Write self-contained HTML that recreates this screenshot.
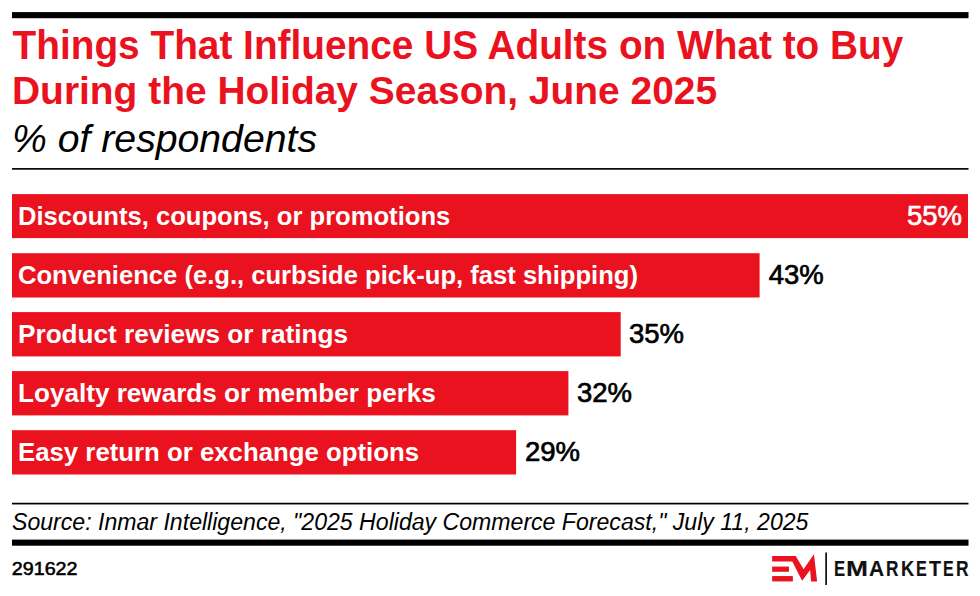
<!DOCTYPE html>
<html>
<head>
<meta charset="utf-8">
<style>
html,body{margin:0;padding:0;background:#fff;}
body{width:980px;height:596px;position:relative;overflow:hidden;font-family:"Liberation Sans",sans-serif;}
.a{position:absolute;white-space:nowrap;}
.t{color:#E9121E;font-weight:bold;font-size:38.93px;line-height:38.93px;left:12px;transform-origin:0 0;transform:scaleY(1.08);}
.sub{font-style:italic;font-size:39.2px;line-height:39.2px;left:12px;color:#000;transform-origin:0 0;}
.lbl{color:#fff;font-weight:bold;font-size:25.6px;line-height:25.6px;left:18px;transform-origin:0 0;transform:scaleY(1.04);}
.val{color:#000;font-weight:normal;-webkit-text-stroke:0.7px currentColor;font-size:27.5px;line-height:27.5px;transform-origin:0 0;}
.em{position:absolute;top:0;font-weight:bold;font-size:21.2px;line-height:21.2px;color:#111;-webkit-text-stroke:0.15px #111;transform-origin:0 0;}
.src{font-style:italic;font-size:23.1px;line-height:23.1px;left:12px;color:#000;transform-origin:0 0;}
</style>
</head>
<body>

<div class="a t" style="top:26.4px;left:12.5px;font-size:38.8px;transform:scaleY(1.04);">Things That Influence US Adults on What to Buy</div>
<div class="a t" style="top:71.2px;transform:scaleY(1.02);">During the Holiday Season, June 2025</div>
<div class="a sub" style="top:118.8px;">% of respondents</div>


<svg class="a" style="left:0;top:0;" width="980" height="596" viewBox="0 0 980 596">
  <g fill="#000">
    <rect x="12" y="12.1" width="956.5" height="6.1"/>
    <rect x="12" y="168.05" width="956.5" height="1.65"/>
    <rect x="12" y="502.75" width="956.5" height="1.7"/>
    <rect x="12" y="539.6" width="956.5" height="6.1"/>
  </g>
  <g fill="#E9121E">
    <rect x="12" y="194.1" width="956" height="44"/>
    <rect x="12" y="253.2" width="747.6" height="44.3"/>
    <rect x="12" y="312.1" width="608.7" height="44.3"/>
    <rect x="12" y="371.1" width="556.4" height="44.3"/>
    <rect x="12" y="430.2" width="504.1" height="44.3"/>
  </g>
</svg>

<div class="a lbl" style="top:202.9px;transform:scale(1.0,1.04);">Discounts, coupons, or promotions</div>
<div class="a lbl" style="top:262.0px;transform:scale(1.0,1.04);">Convenience (e.g., curbside pick-up, fast shipping)</div>
<div class="a lbl" style="top:320.9px;transform:scale(1.022,1.04);">Product reviews or ratings</div>
<div class="a lbl" style="top:379.9px;transform:scale(1.02,1.04);">Loyalty rewards or member perks</div>
<div class="a lbl" style="top:439.0px;transform:scale(1.007,1.04);">Easy return or exchange options</div>

<div class="a val" style="top:201.7px;left:907px;color:#fff;">55%</div>
<div class="a val" style="top:260.7px;left:768.7px;">43%</div>
<div class="a val" style="top:319.7px;left:629px;">35%</div>
<div class="a val" style="top:378.7px;left:577px;">32%</div>
<div class="a val" style="top:437.7px;left:525px;">29%</div>

<div class="a src" style="top:510.9px;">Source: Inmar Intelligence, "2025 Holiday Commerce Forecast," July 11, 2025</div>

<div class="a" style="left:11.8px;top:559.7px;font-weight:normal;-webkit-text-stroke:0.6px #000;font-size:19.7px;line-height:19.7px;color:#000;transform:scaleY(0.91);transform-origin:0 0;">291622</div>

<svg class="a" style="left:765px;top:550px;" width="70" height="40" viewBox="0 0 70 40">
  <path fill="#E9121E" d="M7.14 6.07 L30.71 6.07 L38.57 19.29 L48.93 4.29 L52.14 31.43 L46.07 31.43 L45.14 20 L37.14 30.71 L27.3 11.6 L7.14 11.6 Z"/>
  <rect fill="#E9121E" x="7.14" y="16.57" width="16.79" height="5.22"/>
  <rect fill="#E9121E" x="7.14" y="26.07" width="20.72" height="5.36"/>
  <rect fill="#000" x="60.3" y="2.5" width="1.6" height="32.5"/>
</svg>
<div class="a" style="left:0;top:557.8px;"><span class="em" style="left:834.29px;transform:scaleX(0.790);">E</span><span class="em" style="left:846.16px;transform:scaleX(1.243);">M</span><span class="em" style="left:868.71px;transform:scaleX(0.986);">A</span><span class="em" style="left:885.96px;transform:scaleX(0.813);">R</span><span class="em" style="left:900.89px;transform:scaleX(0.861);">K</span><span class="em" style="left:915.93px;transform:scaleX(0.765);">E</span><span class="em" style="left:928.81px;transform:scaleX(0.936);">T</span><span class="em" style="left:942.84px;transform:scaleX(0.756);">E</span><span class="em" style="left:955.85px;transform:scaleX(0.821);">R</span></div>
</body>
</html>
